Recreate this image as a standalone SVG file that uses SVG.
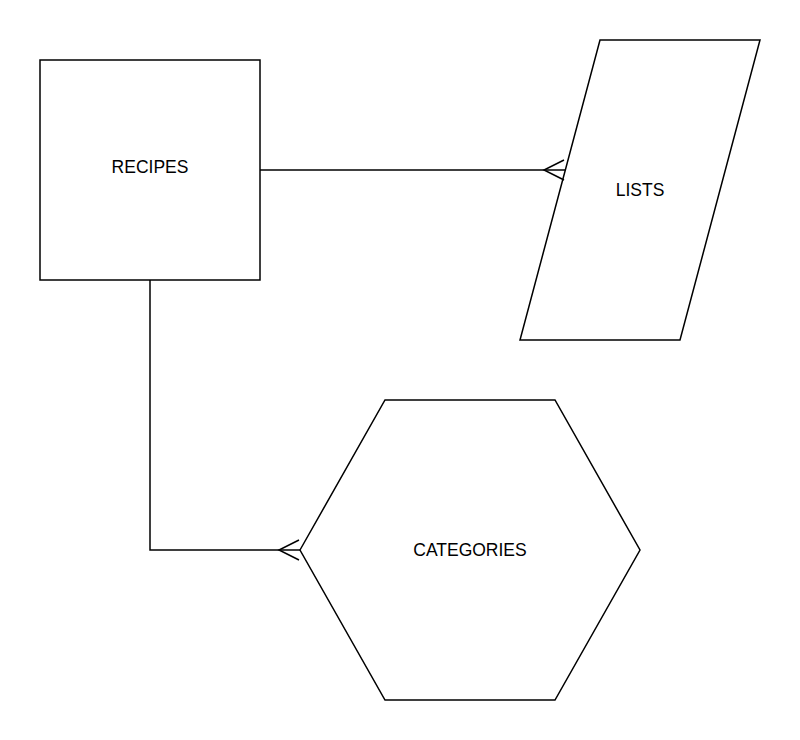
<svg xmlns="http://www.w3.org/2000/svg" width="800" height="740" viewBox="0 0 800 740">
<style>
.s{fill:#fff;stroke:#000;stroke-width:1.5}
.l{fill:none;stroke:#000;stroke-width:1.5}
.t{font-family:"Liberation Sans",Arial,sans-serif;font-size:17.5px;fill:#000;text-anchor:middle}
</style>
<rect width="800" height="740" fill="#fff"/>
<g id="recipes"><rect class="s" x="40" y="60" width="220" height="220"/><text class="t" x="150" y="173">RECIPES</text></g>
<g id="lists"><polygon class="s" points="600,40 760,40 680,340 520,340"/><text class="t" x="640" y="196">LISTS</text></g>
<g id="categories"><polygon class="s" points="300,550 385,400 555,400 640,550 555,700 385,700"/><text class="t" x="470" y="556">CATEGORIES</text></g>
<g id="connectors">
<path class="l" d="M260,170 H565"/>
<path class="l" d="M564,160 L544,170 L564,180"/>
<path class="l" d="M150,280 V550 H300"/>
<path class="l" d="M299,540 L279,550 L299,560"/>
</g>
</svg>
